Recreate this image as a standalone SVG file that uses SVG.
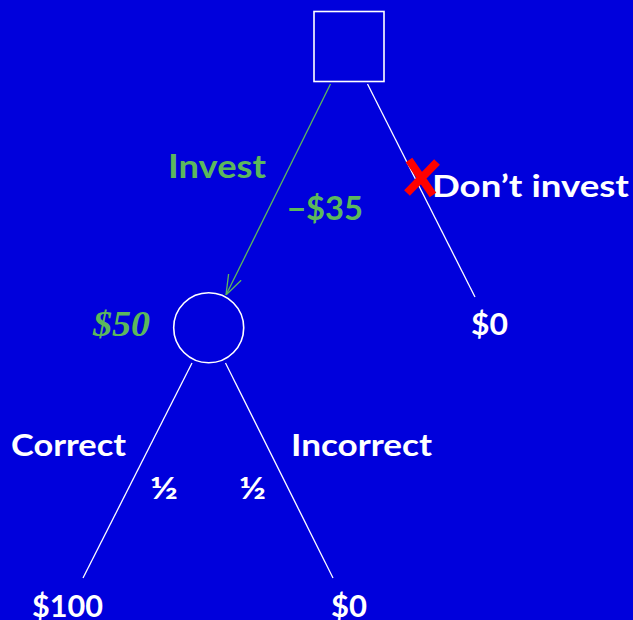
<svg xmlns="http://www.w3.org/2000/svg" width="633" height="620" viewBox="0 0 633 620">
<defs>
<style>
.bg{fill:#0000DC}
.node{fill:none;stroke:#FFFFFF;stroke-width:1.6}
.edge{stroke:#FFFFFF;stroke-width:1.3;fill:none}
.gedge{stroke:#5CB85C;stroke-width:1.3;fill:none}
.lbl{font-family:Lato,"Open Sans",sans-serif;font-weight:bold;fill:#FFFFFF;font-size:31px}
.glbl{font-family:Lato,"Open Sans",sans-serif;font-weight:bold;fill:#5CB85C;font-size:32px}
.val{font-family:"Liberation Serif",serif;font-style:italic;font-weight:bold;fill:#5CB85C;font-size:35px}
</style>
<marker id="open" viewBox="0 0 20 20" refX="20" refY="10" markerWidth="20" markerHeight="20" markerUnits="userSpaceOnUse" orient="auto">
<path d="M0,3 L20,10 L0,17" fill="none" stroke="#5CB85C" stroke-width="1.3"/>
</marker>
</defs>
<rect class="bg" x="0" y="0" width="633" height="620"/>
<g id="connectors">
<line class="gedge" x1="330.5" y1="84" x2="226" y2="295" marker-end="url(#open)"/>
<line class="edge" x1="367.5" y1="84" x2="475" y2="297"/>
<line class="edge" x1="192" y1="363" x2="83" y2="578"/>
<line class="edge" x1="225.5" y1="363" x2="333" y2="578"/>
</g>
<g id="decision">
<rect class="node" x="314" y="11.5" width="70" height="70"/>
</g>
<g id="chance">
<circle class="node" cx="208.7" cy="327.8" r="35"/>
</g>
<g id="labels">
<text class="glbl" x="168" y="178" textLength="98" lengthAdjust="spacingAndGlyphs">Invest</text>
<text class="glbl" x="287" y="220" textLength="76" lengthAdjust="spacingAndGlyphs">−$35</text>
<text class="lbl" x="432" y="197" textLength="197" lengthAdjust="spacingAndGlyphs">Don’t invest</text>
<text class="val" x="93" y="336" textLength="57" lengthAdjust="spacingAndGlyphs">$50</text>
<text class="lbl" x="471" y="335" textLength="37" lengthAdjust="spacingAndGlyphs">$0</text>
<text class="lbl" x="11" y="456" textLength="115" lengthAdjust="spacingAndGlyphs">Correct</text>
<text class="lbl" x="291" y="456" textLength="141" lengthAdjust="spacingAndGlyphs">Incorrect</text>
<text class="lbl" x="150" y="499" textLength="28" lengthAdjust="spacingAndGlyphs">½</text>
<text class="lbl" x="239" y="499" textLength="27" lengthAdjust="spacingAndGlyphs">½</text>
<text class="lbl" x="32" y="617" textLength="71" lengthAdjust="spacingAndGlyphs">$100</text>
<text class="lbl" x="331" y="617" textLength="36" lengthAdjust="spacingAndGlyphs">$0</text>
</g>
<g id="cross">
<path d="M409,160 L433,195 M437,162 L407,193" stroke="#FF0000" stroke-width="8" stroke-linecap="butt" fill="none"/>
</g>
</svg>
